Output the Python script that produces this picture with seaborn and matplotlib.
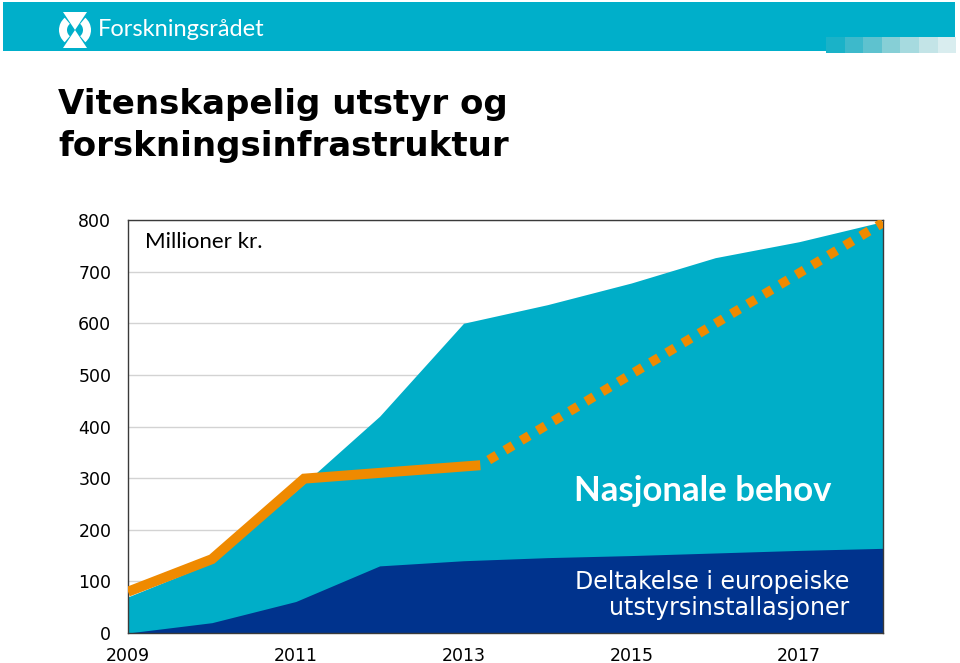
import matplotlib
matplotlib.use("Agg")
import matplotlib.pyplot as plt
import matplotlib.patches as mpatches
import seaborn as sns

# data (million NOK)
years = [2009, 2010, 2011, 2012, 2013, 2014, 2015, 2016, 2017, 2018]
europe = [0, 20, 61, 130, 140, 146, 150, 155, 160, 164]
total = [70, 136, 275, 420, 600, 636, 678, 727, 758, 797]

budget_years = [2009, 2010, 2011.1, 2013.2]
budget = [80, 143, 299, 325]
plan_years = [2013.3, 2018]
plan = [335, 795]

x_ticks = list(range(2009, 2019))
x_labels = ["2009", "", "2011", "", "2013", "", "2015", "", "2017", ""]
y_ticks = list(range(0, 801, 100))

LIGHT = "#00AEC8"
DARK = "#00338D"
ORANGE = "#EF8A00"
HEADER = "#00AFCA"

sns.set_style("white")
plt.rcParams["font.family"] = ["DejaVu Sans"]

fig = plt.figure(figsize=(9.6, 6.63), dpi=100)

# header band with logo
hdr = fig.add_axes([0, 0, 1, 1], zorder=0)
hdr.set_xlim(0, 960)
hdr.set_ylim(663, 0)
hdr.axis("off")
hdr.add_patch(mpatches.Rectangle((3, 2), 952, 49, color=HEADER, lw=0))
shades = ["#1AB2C8", "#3DB9CB", "#5EC2CF", "#86CFD6", "#A6DADF", "#C3E4E7", "#D9EDEF"]
for i, c in enumerate(shades):
    hdr.add_patch(mpatches.Rectangle((826 + i * 18.6, 37), 18.6, 16, color=c, lw=0))
hdr.add_patch(mpatches.Polygon([(63, 12), (87, 12), (75, 30)], color="white", lw=0))
hdr.add_patch(mpatches.Polygon([(75, 30), (63, 48), (87, 48)], color="white", lw=0))
hdr.add_patch(mpatches.Wedge((75, 30), 16, 130, 230, width=8, color="white", lw=0))
hdr.add_patch(mpatches.Wedge((75, 30), 16, -50, 50, width=8, color="white", lw=0))
hdr.text(98, 29, "Forskningsrådet", color="white", fontsize=17, family="Lato",
         va="center", ha="left")

fig.text(58 / 960, 1 - 88 / 663, "Vitenskapelig utstyr og\nforskningsinfrastruktur",
         fontsize=24.5, fontweight="bold", color="black", va="top", ha="left",
         linespacing=1.36)

ax = fig.add_axes([128 / 960, 1 - 633 / 663, 755 / 960, 413 / 663], zorder=1)
ax.fill_between(years, 0, total, color=LIGHT, lw=0, zorder=1)
ax.fill_between(years, 0, europe, color=DARK, lw=0, zorder=2)

sns.lineplot(x=budget_years, y=budget, color=ORANGE, linewidth=7.2, ax=ax, zorder=3)
sns.lineplot(x=plan_years, y=plan, color=ORANGE, linewidth=6.8, ax=ax, zorder=3)
ax.lines[0].set_solid_capstyle("butt")
ax.lines[0].set_solid_joinstyle("miter")
ax.lines[1].set_dashes((1, 1.0))
ax.lines[1].set_dash_capstyle("butt")

ax.set_xlim(2009, 2018)
ax.set_ylim(0, 800)
ax.set_xticks(x_ticks)
ax.set_xticklabels(x_labels)
ax.set_yticks(y_ticks)
ax.yaxis.grid(True, color="#D3D3D3", lw=1)
ax.set_axisbelow(True)
for s in ax.spines.values():
    s.set_visible(True)
    s.set_color("#3A3A3A")
    s.set_linewidth(1)
ax.tick_params(axis="both", which="major", labelsize=12.5, colors="#999999",
               labelcolor="black", length=4, width=1)
ax.tick_params(axis="y", pad=8)
ax.tick_params(axis="x", pad=6)
ax.set_xlabel("")
ax.set_ylabel("")

ax.text(2009.2, 758, "Millioner kr.", fontsize=16, family="Lato", va="center",
        ha="left", color="black")
ax.text(2015.85, 275, "Nasjonale behov", fontsize=25, family="Lato",
        fontweight="bold", color="white", va="center", ha="center")
ax.text(2017.6, 73, "Deltakelse i europeiske\nutstyrsinstallasjoner", fontsize=17,
        color="white", va="center", ha="right", multialignment="right",
        linespacing=1.12)

fig.savefig("out.png", dpi=100)
